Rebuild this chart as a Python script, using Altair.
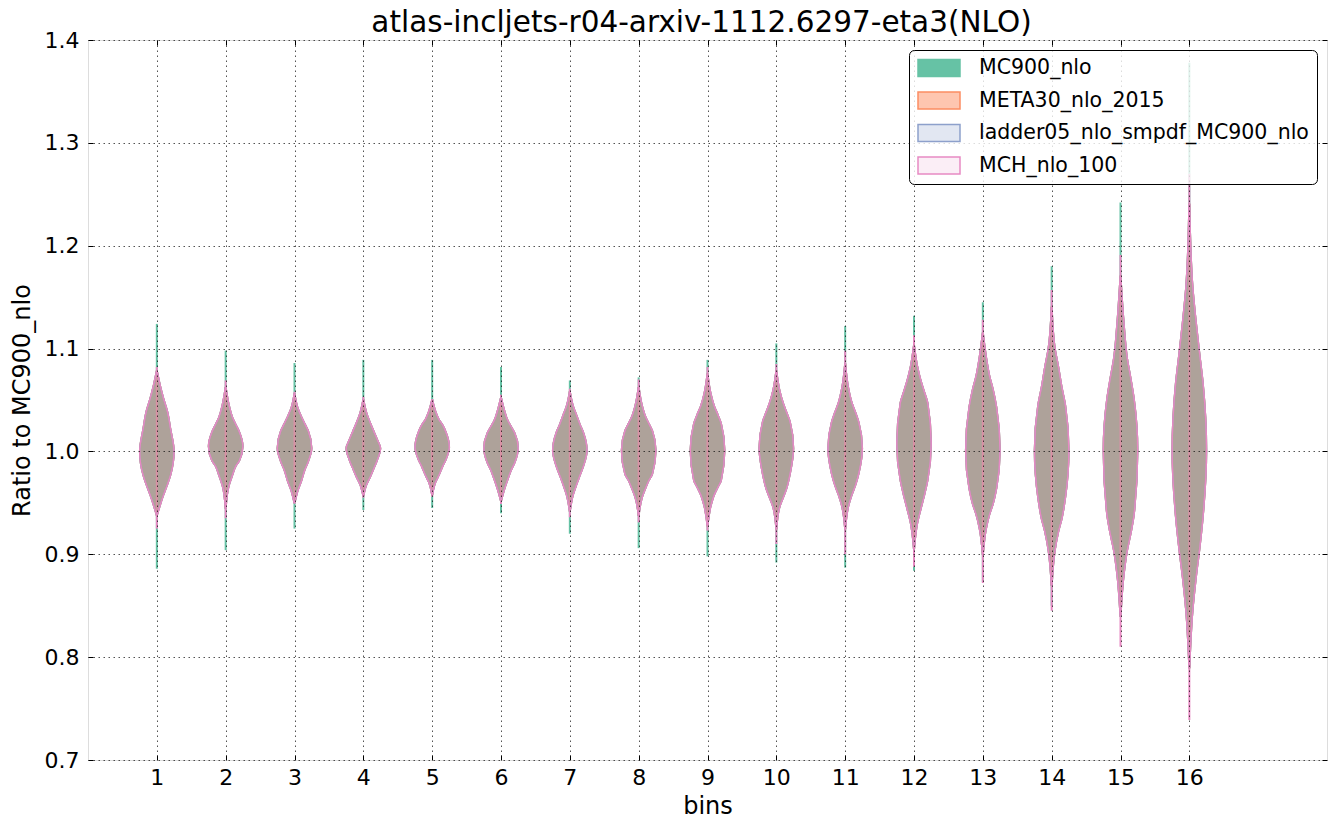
import altair as alt
import pandas as pd

# ---------------- data ----------------
SERIES = ["MC900_nlo", "META30_nlo_2015", "ladder05_nlo_smpdf_MC900_nlo", "MCH_nlo_100"]
COLORS = ["#66c2a5", "#fc8d62", "#8da0cb", "#e78ac3"]
LEGEND_FILLS = ["#66c2a5", "#fec6b0", "#e2e7f2", "#fbeef6"]
FILL_ALPHA = [1.0, 0.5, 0.25, 0.12]

BINS = list(range(1, 17))
Y_TICKS = [0.7, 0.8, 0.9, 1.0, 1.1, 1.2, 1.3, 1.4]

# relative violin width at each profile point (top -> bottom)
LEVELS = [0.02, 0.2, 0.4, 0.6, 0.8, 1.0, 0.8, 0.6, 0.4, 0.2, 0.02]

# y value (ratio) at which each bin's violin reaches the LEVELS above
PROFILE_1 = [1.078, 1.064, 1.051, 1.040, 1.022, 1.000, 0.977, 0.967, 0.958, 0.948, 0.938]
PROFILE_2 = [1.062, 1.045, 1.033, 1.026, 1.019, 1.005, 0.991, 0.986, 0.977, 0.967, 0.945]
PROFILE_3 = [1.056, 1.042, 1.034, 1.027, 1.020, 1.003, 0.990, 0.982, 0.971, 0.962, 0.950]
PROFILE_4 = [1.050, 1.037, 1.028, 1.020, 1.012, 1.003, 0.991, 0.983, 0.975, 0.968, 0.957]
PROFILE_5 = [1.050, 1.039, 1.031, 1.026, 1.019, 1.004, 0.992, 0.985, 0.977, 0.970, 0.958]
PROFILE_6 = [1.052, 1.040, 1.030, 1.024, 1.018, 1.003, 0.989, 0.982, 0.973, 0.963, 0.952]
PROFILE_7 = [1.058, 1.044, 1.035, 1.026, 1.018, 1.001, 0.986, 0.977, 0.968, 0.958, 0.942]
PROFILE_8 = [1.062, 1.045, 1.034, 1.027, 1.020, 1.001, 0.978, 0.972, 0.964, 0.955, 0.938]
PROFILE_9 = [1.075, 1.056, 1.044, 1.036, 1.027, 1.001, 0.972, 0.965, 0.958, 0.947, 0.928]
PROFILE_10 = [1.078, 1.059, 1.047, 1.038, 1.029, 1.003, 0.978, 0.964, 0.955, 0.946, 0.925]
PROFILE_11 = [1.085, 1.061, 1.047, 1.038, 1.028, 1.003, 0.979, 0.967, 0.958, 0.947, 0.925]
PROFILE_12 = [1.103, 1.083, 1.069, 1.058, 1.047, 1.008, 0.972, 0.957, 0.944, 0.930, 0.905]
PROFILE_13 = [1.115, 1.092, 1.073, 1.060, 1.043, 1.001, 0.964, 0.949, 0.939, 0.925, 0.900]
PROFILE_14 = [1.140, 1.100, 1.082, 1.062, 1.045, 1.001, 0.955, 0.935, 0.922, 0.904, 0.870]
PROFILE_15 = [1.170, 1.125, 1.090, 1.071, 1.050, 1.001, 0.940, 0.920, 0.904, 0.880, 0.840]
PROFILE_16 = [1.240, 1.160, 1.125, 1.095, 1.066, 1.001, 0.937, 0.905, 0.878, 0.845, 0.790]
PROFILES = [PROFILE_1, PROFILE_2, PROFILE_3, PROFILE_4, PROFILE_5, PROFILE_6, PROFILE_7,
            PROFILE_8, PROFILE_9, PROFILE_10, PROFILE_11, PROFILE_12, PROFILE_13,
            PROFILE_14, PROFILE_15, PROFILE_16]

# extremes (thin tails) of the violins
MC900_MAX = [1.124, 1.098, 1.086, 1.089, 1.089, 1.082, 1.069, 1.072, 1.089, 1.105, 1.122, 1.132, 1.145, 1.180, 1.242, 1.378]
MC900_MIN = [0.886, 0.904, 0.925, 0.943, 0.945, 0.940, 0.920, 0.906, 0.898, 0.892, 0.887, 0.884, 0.873, 0.850, 0.845, 0.800]
OTHER_MAX = [1.082, 1.069, 1.058, 1.053, 1.051, 1.055, 1.061, 1.070, 1.082, 1.085, 1.098, 1.113, 1.128, 1.157, 1.191, 1.270]
OTHER_MIN = [0.925, 0.935, 0.950, 0.955, 0.956, 0.949, 0.936, 0.931, 0.923, 0.910, 0.900, 0.888, 0.872, 0.845, 0.810, 0.739]

HALF_WIDTH = 0.25

# ---------------- tables ----------------
rows = []
for s in SERIES:
    for b, prof in zip(BINS, PROFILES):
        for yv, f in zip(prof, LEVELS):
            rows.append({"series": s, "bin": b, "y": yv,
                         "x1": b - HALF_WIDTH * f, "x2": b + HALF_WIDTH * f})
body = pd.DataFrame(rows)
tail_mc = pd.DataFrame({"bin": BINS, "lo": MC900_MIN, "hi": MC900_MAX})
tail_ot = pd.DataFrame({"bin": BINS, "lo": OTHER_MIN, "hi": OTHER_MAX})

FONT = "DejaVu Sans"
xs = alt.Scale(domain=[0, 18], nice=False, zero=False)
ys = alt.Scale(domain=[0.7, 1.4], nice=False, zero=False)
cscale = alt.Scale(domain=SERIES, range=COLORS)
lscale = alt.Scale(domain=SERIES, range=LEGEND_FILLS)

grid_kw = dict(grid=True, gridDash=[1.5, 3.5], gridColor="#000000", gridWidth=0.8, gridOpacity=0.85)

main_x = alt.Axis(orient="bottom", values=BINS, format="d", ticks=False, domain=False, labelPadding=7,
                  labelFontSize=22, labelColor="black", labelFont=FONT,
                  title="bins", titleFontSize=24, titleFontWeight="normal", titleFont=FONT,
                  titleColor="black", titlePadding=6, zindex=1, **grid_kw)
main_y = alt.Axis(orient="left", values=Y_TICKS, format=".1f", ticks=False, domain=False, labelPadding=9,
                  labelFontSize=22, labelColor="black", labelFont=FONT,
                  title="Ratio to MC900_nlo", titleFontSize=24, titleFontWeight="normal",
                  titleFont=FONT, titleColor="black", titlePadding=10, zindex=1, **grid_kw)

def tick_axis(orient, values):
    return alt.Axis(orient=orient, values=values, labels=False, grid=False, domain=False,
                    ticks=True, tickSize=5, tickColor="black", tickWidth=1, offset=-5,
                    title=None, zindex=1)

legend = alt.Legend(title=None, orient="top-right", offset=10, zindex=2,
                    fillColor="rgba(255,255,255,0.8)", strokeColor="black",
                    cornerRadius=5, padding=8,
                    symbolType="M-1,-0.4L1,-0.4L1,0.4L-1,0.4Z", symbolSize=1764,
                    symbolStrokeWidth=1.5, symbolOpacity=1, clipHeight=20, rowPadding=11.5,
                    labelFontSize=20.5, labelFont=FONT, labelColor="black",
                    labelOffset=18, labelLimit=500)

layers = []
# green tails (MC900_nlo extremes)
layers.append(alt.Chart(tail_mc).mark_rule(color=COLORS[0], strokeWidth=2).encode(
    x=alt.X("bin:Q", scale=xs, axis=tick_axis("bottom", BINS)),
    y=alt.Y("lo:Q", scale=ys, axis=tick_axis("left", Y_TICKS)),
    y2="hi:Q"))

for i, s in enumerate(SERIES):
    if i == 0:
        xa, ya = main_x, main_y
    else:
        xa, ya = None, None
    layers.append(alt.Chart(body).transform_filter(alt.datum.series == s)
                  .mark_area(orient="horizontal", interpolate="monotone", strokeWidth=1.4,
                             fill=COLORS[i], stroke=COLORS[i], fillOpacity=FILL_ALPHA[i],
                             strokeOpacity=1, opacity=1)
                  .encode(y=alt.Y("y:Q", scale=ys, axis=ya),
                          x=alt.X("x1:Q", scale=xs, axis=xa),
                          x2="x2:Q",
                          detail="bin:N"))
    if i == 0:
        # tails of the other sets (drawn under their bodies)
        layers.append(alt.Chart(tail_ot).mark_rule(color=COLORS[3], strokeWidth=2).encode(
            x=alt.X("bin:Q", scale=xs, axis=tick_axis("top", BINS)),
            y=alt.Y("lo:Q", scale=ys, axis=tick_axis("right", Y_TICKS)),
            y2="hi:Q"))

# legend-only layer (no marks drawn)
layers.append(alt.Chart(body).transform_filter("false")
              .mark_area(orient="horizontal", opacity=1)
              .encode(y=alt.Y("y:Q", scale=ys, axis=None),
                      x=alt.X("x1:Q", scale=xs, axis=None),
                      x2="x2:Q",
                      fill=alt.Fill("series:N", scale=lscale, legend=legend),
                      stroke=alt.Stroke("series:N", scale=cscale, legend=legend)))

chart = alt.layer(*layers).resolve_axis(x="independent", y="independent").properties(
    width=1239, height=720,
    autosize=alt.AutoSizeParams(type="none"),
    padding={"left": 80, "top": 32, "right": 2, "bottom": 62},
    title=alt.TitleParams(text="atlas-incljets-r04-arxiv-1112.6297-eta3(NLO)",
                          fontSize=29.5, fontWeight="normal", font=FONT, color="black",
                          anchor="middle", offset=-9, dx=-6),
).configure_view(stroke="black", strokeWidth=1).configure(font=FONT)

chart.save("out.html", embed_options={"renderer": "svg", "actions": False})
